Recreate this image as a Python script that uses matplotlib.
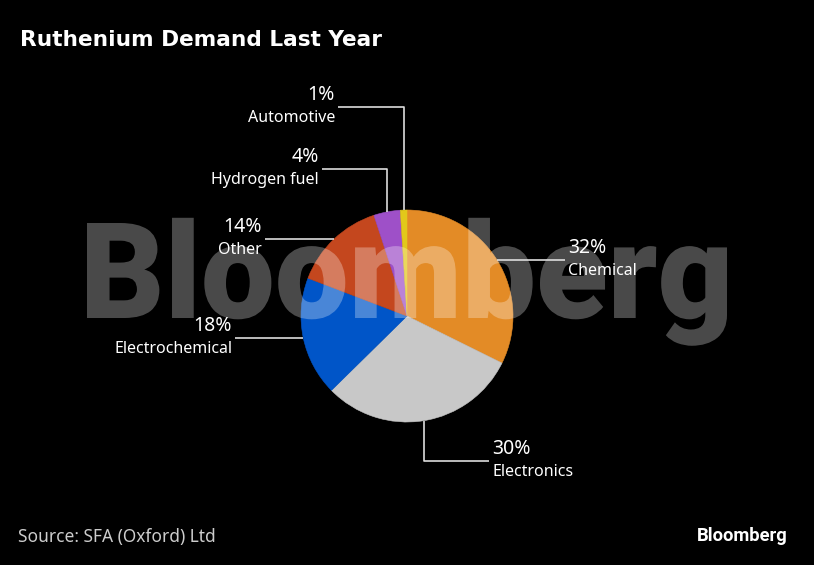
import numpy as np
import matplotlib.pyplot as plt
from matplotlib.textpath import TextPath
from matplotlib.patches import PathPatch
from matplotlib.font_manager import FontProperties
from matplotlib.transforms import Affine2D

W, H = 814, 565

segments = ['Chemical', 'Electronics', 'Electrochemical', 'Other',
            'Hydrogen fuel', 'Automotive']
shares = [32, 30, 18, 14, 4, 1]
colors = ['#E38B26', '#C8C8C8', '#0055C8', '#C4471E', '#9E50C8', '#E2C81A']

# label layout: side, elbow y (px from top or None), line end x (px)
layout = {
    'Chemical':        ('right', None, 565),
    'Electronics':     ('right', 461, 489),
    'Electrochemical': ('left', None, 235),
    'Other':           ('left', None, 265),
    'Hydrogen fuel':   ('left', 169, 322),
    'Automotive':      ('left', 107, 338),
}

fig = plt.figure(figsize=(W / 100, H / 100), dpi=100, facecolor='black')
ax = fig.add_axes([0, 0, 1, 1])
ax.set_facecolor('black')

cx, cy, r = 407, H - 316, 106
wedges, _ = ax.pie(shares, colors=colors, startangle=90, counterclock=False,
                   center=(cx, cy), radius=r, frame=True)
for w in wedges:
    w.set_edgecolor(w.get_facecolor())
    w.set_linewidth(0.4)
ax.set_xlim(0, W)
ax.set_ylim(0, H)
ax.axis('off')

# watermark
fp = FontProperties(family='Roboto', weight=900)
tp = TextPath((0, 0), 'Bloomberg', size=100, prop=fp)
cap = TextPath((0, 0), 'B', size=100, prop=fp).get_extents()
ext = tp.get_extents()
sx = (727 - 87) / ext.width
sy = 95 / cap.height
tr = Affine2D().translate(-ext.x0, 0).scale(sx, sy).translate(87, H - 318)
ax.add_patch(PathPatch(tr.transform_path(tp), facecolor='white', alpha=0.29,
                       edgecolor='none', zorder=5))

lab_font = 'Noto Sans'
line_col = '#DDDDDD'
for w, name, val in zip(wedges, segments, shares):
    mid = np.deg2rad((w.theta1 + w.theta2) / 2)
    x0 = cx + r * np.cos(mid)
    y0 = cy + r * np.sin(mid)
    side, elbow, xend = layout[name]
    if elbow is None:
        xs, ys = [x0, xend], [y0, y0]
        ly = y0
    else:
        ly = H - elbow
        xs, ys = [x0, x0, xend], [y0, ly, ly]
    ax.plot(xs, ys, color=line_col, lw=1.2, zorder=6, solid_capstyle='butt')
    if side == 'left':
        tx, ha = xend - 3, 'right'
    else:
        tx, ha = xend + 3, 'left'
    ax.text(tx, ly + 12, f'{val}%', ha=ha, va='center', color='white',
            fontsize=14, family=lab_font, zorder=7)
    ax.text(tx, ly - 11, name, ha=ha, va='center', color='white',
            fontsize=11.5, family=lab_font, zorder=7)

fig.text(20 / W, 1 - 40 / H, 'Ruthenium Demand Last Year', color='white',
         fontsize=15.6, fontweight='bold', family='DejaVu Sans', va='center')
fig.text(18 / W, 1 - 537 / H, 'Source: SFA (Oxford) Ltd', color='#CCCCCC',
         fontsize=12.5, family='Noto Sans', va='center')
fig.text(788 / W, 1 - 536 / H, 'Bloomberg', color='white', fontsize=13.2,
         fontweight='bold', family='Roboto', va='center', ha='right')

fig.savefig('out.png', dpi=100, facecolor='black')
